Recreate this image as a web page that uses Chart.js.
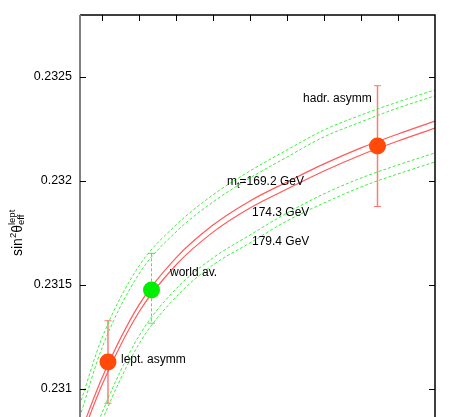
<!DOCTYPE html>
<html>
<head>
<meta charset="utf-8">
<script src="https://cdn.jsdelivr.net/npm/chart.js@4/dist/chart.umd.min.js"></script>
<style>
  html, body { margin: 0; padding: 0; background: #fff; }
  canvas { display: block; }
</style>
</head>
<body>
<canvas id="grafico" width="457" height="417"></canvas>
<script>
// eixo x (M_H), pontos onde as curvas foram lidas
const mhGrid = [70, 100, 150, 200, 250, 300, 350, 400, 450, 500, 550];

// curvas sin2theta, duas por valor de m_t
const mt169Upper = [0.230923, 0.231245, 0.231591, 0.231788, 0.231933, 0.232048, 0.232149, 0.232245, 0.232317, 0.232380, 0.232438];
const mt169Lower = [0.230865, 0.231197, 0.231553, 0.231755, 0.231899, 0.232014, 0.232115, 0.232212, 0.232284, 0.232351, 0.232409];
const mt174Upper = [0.230779, 0.231053, 0.231404, 0.231630, 0.231788, 0.231904, 0.231995, 0.232082, 0.232159, 0.232226, 0.232288];
const mt174Lower = [0.230745, 0.231019, 0.231370, 0.231596, 0.231754, 0.231870, 0.231961, 0.232048, 0.232125, 0.232192, 0.232254];
const mt179Upper = [0.230596, 0.230885, 0.231255, 0.231481, 0.231630, 0.231740, 0.231846, 0.231938, 0.232014, 0.232077, 0.232135];
const mt179Lower = [0.230558, 0.230846, 0.231216, 0.231442, 0.231596, 0.231702, 0.231808, 0.231894, 0.231971, 0.232034, 0.232091];

// medidas
const medidasNomes = ["lept. asymm", "world av.", "hadr. asymm"];
const medidasX = [108.1, 166.9, 472.3];
const medidasY = [0.23113, 0.231476, 0.232168];
const medidasMin = [0.230931, 0.231316, 0.231877];
const medidasMax = [0.231328, 0.231652, 0.232458];
const medidasCores = ["#ff4a0a", "#00ee00", "#ff4a0a"];

// ticks
const yTicks = [0.231, 0.2315, 0.232, 0.2325];
const yTickLabels = ["0.231", "0.2315", "0.232", "0.2325"];
const xTicks = [100, 150, 200, 250, 300, 350, 400, 450, 500];

const fonte = '"Liberation Sans", Arial, Helvetica, sans-serif';

function curva(ys) {
  return ys.map((y, i) => ({ x: mhGrid[i], y: y }));
}

function linhaVerde(ys) {
  return {
    data: curva(ys),
    borderColor: "#3ff03f",
    borderWidth: 1,
    borderDash: [3, 2],
    pointRadius: 0,
    cubicInterpolationMode: "monotone",
    order: 2,
  };
}

function linhaVermelha(ys) {
  return {
    data: curva(ys),
    borderColor: "#ff5a5a",
    borderWidth: 1.2,
    pointRadius: 0,
    cubicInterpolationMode: "monotone",
    order: 2,
  };
}

// textos dentro do grafico (posicao em coordenadas dos dados)
const textos = [
  { x: 125.7, y: 0.231139, partes: [["lept. asymm", 0]] },
  { x: 191.9, y: 0.231558, partes: [["world av.", 0]] },
  { x: 371.7, y: 0.232394, partes: [["hadr. asymm", 0]] },
  { x: 269.0, y: 0.231995, partes: [["m", 0], ["t", 4], ["=169.2 GeV", 0]] },
  { x: 302.7, y: 0.231846, partes: [["174.3 GeV", 0]] },
  { x: 302.7, y: 0.231707, partes: [["179.4 GeV", 0]] },
];

const pluginMoldura = {
  id: "moldura",
  beforeDatasetsDraw(chart) {
    const ctx = chart.ctx;
    const xs = chart.scales.x;
    const ys = chart.scales.y;
    ctx.save();
    medidasX.forEach((mx, i) => {
      const px = xs.getPixelForValue(mx);
      const top = ys.getPixelForValue(medidasMax[i]);
      const bot = ys.getPixelForValue(medidasMin[i]);
      if (i === 1) {
        ctx.strokeStyle = "#55dd55";
        ctx.lineWidth = 1;
        ctx.setLineDash([3, 2]);
      } else {
        ctx.strokeStyle = "rgba(255,90,90,0.8)";
        ctx.lineWidth = 1.5;
        ctx.setLineDash([]);
      }
      ctx.beginPath();
      ctx.moveTo(px, top);
      ctx.lineTo(px, bot);
      ctx.stroke();
      ctx.setLineDash([]);
      ctx.lineWidth = 1;
      ctx.beginPath();
      ctx.moveTo(px - 3.5, top);
      ctx.lineTo(px + 3.5, top);
      ctx.moveTo(px - 3.5, bot);
      ctx.lineTo(px + 3.5, bot);
      ctx.stroke();
    });
    ctx.restore();
  },
  afterDraw(chart) {
    const ctx = chart.ctx;
    const a = chart.chartArea;
    const xs = chart.scales.x;
    const ys = chart.scales.y;
    ctx.save();

    // bordas
    ctx.strokeStyle = "#000";
    ctx.lineWidth = 1.5;
    ctx.beginPath();
    ctx.moveTo(a.left, a.top);
    ctx.lineTo(a.right, a.top);
    ctx.lineTo(a.right, a.bottom);
    ctx.stroke();
    ctx.strokeStyle = "#808080";
    ctx.lineWidth = 2;
    ctx.beginPath();
    ctx.moveTo(a.left, a.top);
    ctx.lineTo(a.left, a.bottom);
    ctx.stroke();

    // ticks para dentro
    ctx.strokeStyle = "#000";
    ctx.lineWidth = 1;
    ctx.beginPath();
    yTicks.forEach((v) => {
      const py = Math.round(ys.getPixelForValue(v)) + 0.5;
      ctx.moveTo(a.left, py);
      ctx.lineTo(a.left + 6, py);
      ctx.moveTo(a.right, py);
      ctx.lineTo(a.right - 6, py);
    });
    xTicks.forEach((v) => {
      const px = Math.round(xs.getPixelForValue(v)) + 0.5;
      ctx.moveTo(px, a.top);
      ctx.lineTo(px, a.top + 6);
    });
    ctx.stroke();

    // textos
    ctx.fillStyle = "#000";
    ctx.textBaseline = "middle";
    ctx.textAlign = "left";
    textos.forEach((t) => {
      let px = xs.getPixelForValue(t.x);
      const py = ys.getPixelForValue(t.y);
      t.partes.forEach(([txt, desl]) => {
        ctx.font = (desl ? "9px " : "12px ") + fonte;
        ctx.fillText(txt, px, py + desl);
        px += ctx.measureText(txt).width;
      });
    });

    // titulo do eixo y: sin^2 theta_eff^lept
    ctx.translate(22, 256);
    ctx.rotate(-Math.PI / 2);
    ctx.textBaseline = "alphabetic";
    let x = 0;
    ctx.font = "14px " + fonte;
    ctx.fillText("sin", x, 0);
    x += ctx.measureText("sin").width;
    ctx.font = "9.5px " + fonte;
    ctx.fillText("2", x, -6);
    x += ctx.measureText("2").width;
    ctx.font = "14px " + fonte;
    ctx.fillText("θ", x, 0);
    x += ctx.measureText("θ").width;
    ctx.font = "9.5px " + fonte;
    ctx.fillText("lept", x, -7);
    ctx.fillText("eff", x, 2);

    ctx.restore();
  },
};

new Chart(document.getElementById("grafico"), {
  type: "line",
  data: {
    datasets: [
      {
        data: medidasX.map((x, i) => ({ x: x, y: medidasY[i] })),
        showLine: false,
        pointRadius: 8.5,
        pointBorderWidth: 0,
        pointBackgroundColor: medidasCores,
        pointBorderColor: medidasCores,
        order: 0,
      },
      linhaVerde(mt169Upper),
      linhaVerde(mt169Lower),
      linhaVermelha(mt174Upper),
      linhaVermelha(mt174Lower),
      linhaVerde(mt179Upper),
      linhaVerde(mt179Lower),
    ],
  },
  options: {
    responsive: false,
    animation: false,
    devicePixelRatio: 1,
    layout: {
      autoPadding: false,
      padding: { top: 15, right: 22, bottom: 0, left: 0 },
    },
    plugins: {
      legend: { display: false },
      tooltip: { enabled: false },
    },
    scales: {
      x: {
        type: "linear",
        min: 70.3,
        max: 550,
        display: false,
      },
      y: {
        min: 0.230865,
        max: 0.232798,
        afterFit: (s) => {
          s.width = 80;
          s.paddingTop = 0;
          s.paddingBottom = 0;
        },
        afterBuildTicks: (s) => { s.ticks = yTicks.map((v) => ({ value: v })); },
        grid: { display: false, drawTicks: false },
        border: { display: false },
        ticks: {
          color: "#000",
          padding: 8,
          font: { family: fonte, size: 12.5 },
          callback: (v) => yTickLabels[yTicks.indexOf(v)],
        },
      },
    },
  },
  plugins: [pluginMoldura],
});
</script>
</body>
</html>
